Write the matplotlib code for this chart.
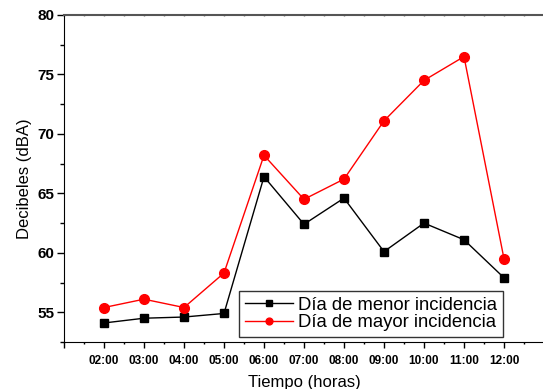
import matplotlib
matplotlib.use("Agg")
import matplotlib.pyplot as plt
from matplotlib.ticker import MultipleLocator, FixedLocator, NullFormatter

plt.rcParams['font.family'] = ['Liberation Sans', 'DejaVu Sans']

hours = [2, 3, 4, 5, 6, 7, 8, 9, 10, 11, 12]
hour_labels = ["02:00", "03:00", "04:00", "05:00", "06:00", "07:00",
               "08:00", "09:00", "10:00", "11:00", "12:00"]
menor = [54.1, 54.5, 54.6, 54.9, 66.4, 62.4, 64.6, 60.1, 62.5, 61.1, 57.9]
mayor = [55.4, 56.1, 55.4, 58.3, 68.2, 64.5, 66.2, 71.1, 74.5, 76.5, 59.5]

fig = plt.figure(figsize=(5.43, 3.89), dpi=100)
ax = fig.add_axes([64/543, 47/389, 480/543, 327/389])

ax.plot(hours, menor, color='black', marker='s', markersize=6, lw=1,
        label='Día de menor incidencia')
ax.plot(hours, mayor, color='red', marker='o', markersize=7, lw=1,
        label='Día de mayor incidencia')

ax.set_xlim(1, 13)
ax.set_ylim(52.5, 80)
ax.xaxis.set_major_locator(FixedLocator([1] + hours + [13]))
ax.set_xticklabels([""] + hour_labels + [""], fontsize=8.5, fontweight='bold')
ax.xaxis.set_minor_locator(MultipleLocator(0.5))
ax.yaxis.set_major_locator(MultipleLocator(5))
ax.yaxis.set_minor_locator(MultipleLocator(2.5))
for lab in ax.get_yticklabels():
    lab.set_fontweight('bold')
    lab.set_fontsize(11)
ax.tick_params(axis='y', which='major', direction='out', length=5, width=1, pad=2)
ax.tick_params(axis='y', which='minor', direction='out', length=3, width=1)
ax.tick_params(axis='x', which='major', direction='out', length=4, width=1, pad=5)
ax.tick_params(axis='x', which='minor', direction='out', length=1.5, width=1)

ax.spines['right'].set_visible(False)
ax.spines['top'].set_color('#555555')
ax.spines['top'].set_linewidth(1.5)

top = ax.secondary_xaxis('top')
top.xaxis.set_major_locator(MultipleLocator(0.5))
top.xaxis.set_major_formatter(NullFormatter())
top.tick_params(direction='inout', length=2, width=1, color='#777777')
top.spines['top'].set_visible(False)

ax.set_xlabel('Tiempo (horas)', fontsize=12, labelpad=6)
ax.set_ylabel('Decibeles (dBA)', fontsize=12, labelpad=4)

leg = ax.legend(loc='lower right', bbox_to_anchor=((503 - 64) / 480, 5 / 327),
                fontsize=13.3, frameon=True, fancybox=False, edgecolor='black',
                handlelength=2.6, borderpad=0.3, labelspacing=0.05,
                handletextpad=0.3, borderaxespad=0, markerscale=0.7)
leg.get_frame().set_linewidth(1)

fig.savefig('out.png', dpi=100)
